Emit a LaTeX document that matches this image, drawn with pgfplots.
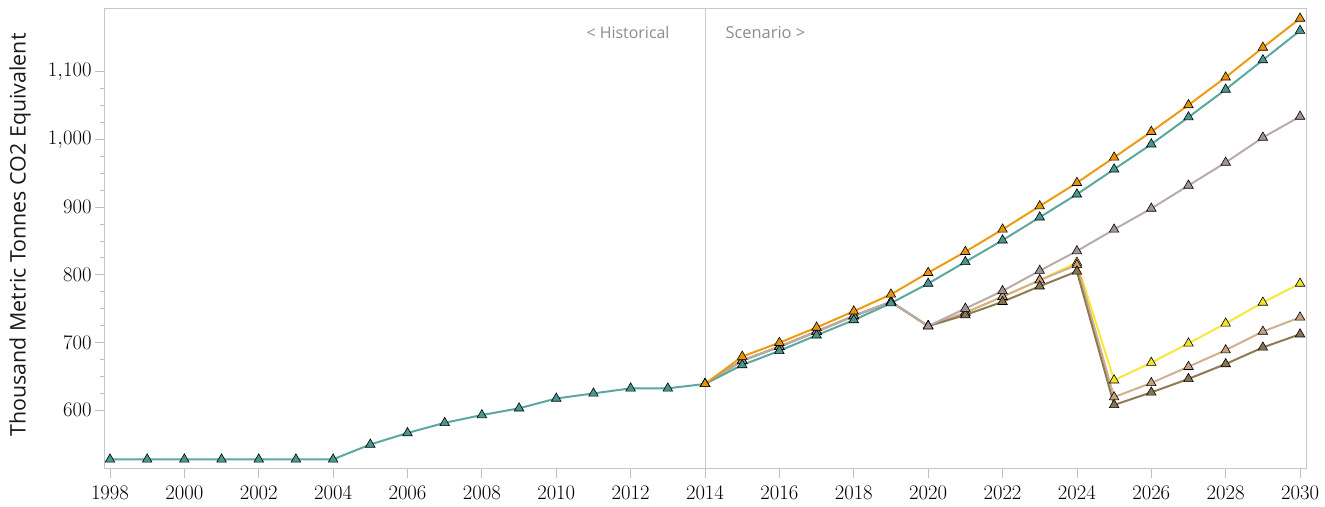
\documentclass[border=0pt]{standalone}
\usepackage{fontspec}
\setsansfont{Open Sans}
\usepackage{pgfplots}
\pgfplotsset{compat=1.18}
\definecolor{tealL}{HTML}{5BA8A0}
\definecolor{tealM}{HTML}{4A9690}
\definecolor{orL}{HTML}{EE9B11}
\definecolor{orM}{HTML}{E8930C}
\definecolor{mvL}{HTML}{BAABAB}
\definecolor{mvM}{HTML}{A39393}
\definecolor{tanL}{HTML}{D2AF8E}
\definecolor{tanM}{HTML}{C6A080}
\definecolor{brL}{HTML}{8F7A55}
\definecolor{brM}{HTML}{8A7450}
\definecolor{yeL}{HTML}{F7E83A}
\definecolor{yeM}{HTML}{F2E22C}
\pgfplotsset{
  ser/.style 2 args={line width=2bp, color=#1, mark=triangle*, mark size=5.5bp,
    mark options={fill=#2, draw=black, line width=0.6bp, solid}},
}
\begin{document}
\begin{tikzpicture}
\begin{axis}[name=a,
  scale only axis, width=1201bp, height=459bp,
  xmin=1997.866, xmax=2030.16, ymin=514.2, ymax=1193,
  xtick={1998,2000,...,2030}, ytick={600,700,...,1100},
  minor y tick num=3,
  x tick label style={/pgf/number format/1000 sep={}, yshift=-5bp},
  y tick label style={/pgf/number format/1000 sep={\mathord{,}}},
  ticklabel style={font=\fontsize{22}{25}\selectfont, text=black},
  tick align=outside, xtick pos=lower, ytick pos=left,
  major tick length=10bp, minor tick length=5bp,
  every tick/.style={draw=black!25, line width=0.8bp},
  axis line style={draw=black!22, line width=1bp},
  ylabel={\sffamily Thousand Metric Tonnes CO2 Equivalent},
  ylabel style={font=\fontsize{21.5}{25}\selectfont, text=black!90, at={(axis description cs:-0.0708,0.5076)}, anchor=center, rotate=0},
  clip=false,
]
\draw[black!20, line width=1bp] (axis cs:2014,514.2) -- (axis cs:2014,1193);
\node[anchor=east, font=\sffamily\fontsize{16}{19}\selectfont, text=black!45] at (axis cs:2013.14,1157.6) {< Historical};
\node[anchor=west, font=\sffamily\fontsize{16.5}{19}\selectfont, text=black!45] at (axis cs:2014.457,1157.6) {Scenario >};

% Yellow scenario
\addplot[ser={yeL}{yeM}] coordinates {(2014,638.5)(2015,673)(2016,693.5)(2017,716)(2018,739)(2019,760)(2020,724)(2021,744)(2022,767.5)(2023,792)(2024,818)(2025,644)(2026,670)(2027,698.5)(2028,728)(2029,759)(2030,787)};
% Tan scenario
\addplot[ser={tanL}{tanM}] coordinates {(2014,638.5)(2015,673)(2016,693.5)(2017,716)(2018,739)(2019,760)(2020,724)(2021,744)(2022,767.5)(2023,792)(2024,814.5)(2025,619)(2026,640)(2027,664)(2028,688.5)(2029,716)(2030,737)};
% Brown scenario
\addplot[ser={brL}{brM}] coordinates {(2014,638.5)(2015,673)(2016,693.5)(2017,716)(2018,739)(2019,760)(2020,724)(2021,740.5)(2022,760)(2023,783)(2024,805)(2025,607.5)(2026,626)(2027,646)(2028,668)(2029,692.5)(2030,712)};
% Mauve scenario
\addplot[ser={mvL}{mvM}] coordinates {(2014,638.5)(2015,673)(2016,693.5)(2017,716)(2018,739)(2019,760)(2020,724)(2021,750)(2022,776)(2023,806)(2024,835)(2025,867)(2026,898)(2027,932)(2028,966)(2029,1003)(2030,1034)};
% Teal historical + scenario
\addplot[ser={tealL}{tealM}] coordinates {(1998,527)(1999,527)(2000,527)(2001,527)(2002,527)(2003,527)(2004,527)(2005,549)(2006,566)(2007,581)(2008,592.5)(2009,602.5)(2010,617)(2011,624.5)(2012,632)(2013,632)(2014,638.5)(2015,666.5)(2016,687.5)(2017,710.5)(2018,733)(2019,758)(2020,787)(2021,819)(2022,851)(2023,885)(2024,919)(2025,956)(2026,993)(2027,1033)(2028,1074)(2029,1117.5)(2030,1161)};
% Orange scenario
\addplot[ser={orL}{orM}] coordinates {(2014,638.5)(2015,679)(2016,699.5)(2017,722)(2018,746)(2019,771)(2020,803)(2021,834)(2022,867)(2023,901.5)(2024,936)(2025,973.5)(2026,1011.5)(2027,1051)(2028,1092)(2029,1136)(2030,1179)};
\end{axis}
\pgfresetboundingbox
\path ([shift={(-105bp,-39bp)}]a.south west) rectangle ([shift={(19bp,9bp)}]a.north east);
\end{tikzpicture}
\end{document}
